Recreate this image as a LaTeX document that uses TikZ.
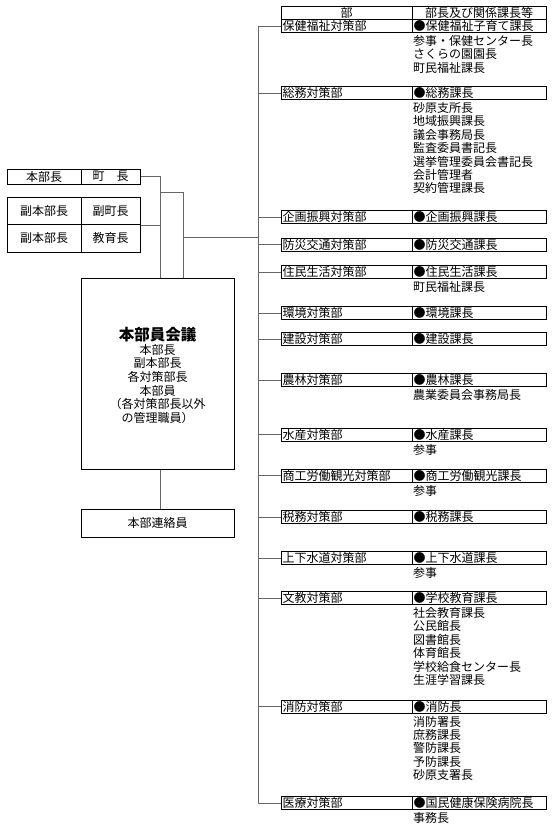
\documentclass[tikz,border=0pt]{standalone}
\usepackage{fontspec}
\setmainfont{Noto Sans CJK JP}
\begin{document}
\begin{tikzpicture}[x=1pt,y=-1pt,
  every node/.style={font=\fontsize{12}{13.4}\selectfont},
  conn/.style={draw=black!60,line width=0.8pt},
  lcell/.style={draw=black,line width=1pt,text width=128,inner xsep=1.5,inner ysep=0,minimum height=13,align=left},
  rcell/.style={draw=black,line width=1pt,text width=131,inner xsep=1.5,inner ysep=0,minimum height=13,align=left},
  box/.style={draw=black,line width=1pt,inner sep=0,align=center},
  subtxt/.style={anchor=west,inner sep=0},
  ctxt/.style={inner sep=0}]
\useasboundingbox (0,0) rectangle (553,830);
\fill[white] (0,0) rectangle (553,830);
\newcommand\dept[4]{%
  \node[lcell] (L#1) at (346.5,#2) {#3};
  \node[rcell] (R#1) at (479,#2) {#4};
  \draw[conn] (L#1.west -| trunk) -- (L#1.west);
}
\newcommand\subs[3]{%
  \foreach \t [count=\i] in {#3} {\node[subtxt] (S#1-\i) at (413,{#2+15+13.4*(\i-1)}) {\t};}
}
\coordinate (trunk) at (258,26.25);
% header
\node[lcell,align=center,minimum height=13.5] (H1) at (346.5,12.75) {部};
\node[rcell,align=center,minimum height=13.5] (H2) at (479,12.75) {部長及び関係課長等};
\dept{a}{26.25}{保健福祉対策部}{●保健福祉子育て課長}
\subs{a}{26.25}{参事・保健センター長,さくらの園園長,町民福祉課長}
\dept{b}{93}{総務対策部}{●総務課長}
\subs{b}{93}{砂原支所長,地域振興課長,議会事務局長,監査委員書記長,選挙管理委員会書記長,会計管理者,契約管理課長}
\dept{c}{217}{企画振興対策部}{●企画振興課長}
\dept{d}{244.5}{防災交通対策部}{●防災交通課長}
\dept{e}{272}{住民生活対策部}{●住民生活課長}
\subs{e}{272}{町民福祉課長}
\dept{f}{313}{環境対策部}{●環境課長}
\dept{g}{339}{建設対策部}{●建設課長}
\dept{h}{380}{農林対策部}{●農林課長}
\subs{h}{380}{農業委員会事務局長}
\dept{i}{434.5}{水産対策部}{●水産課長}
\subs{i}{434.5}{参事}
\dept{j}{475.5}{商工労働観光対策部}{●商工労働観光課長}
\subs{j}{475.5}{参事}
\dept{k}{517}{税務対策部}{●税務課長}
\dept{l}{558}{上下水道対策部}{●上下水道課長}
\subs{l}{558}{参事}
\dept{m}{598}{文教対策部}{●学校教育課長}
\subs{m}{598}{社会教育課長,公民館長,図書館長,体育館長,学校給食センター長,生涯学習課長}
\dept{n}{706.5}{消防対策部}{●消防長}
\subs{n}{706.5}{消防署長,庶務課長,警防課長,予防課長,砂原支署長}
\dept{o}{803}{医療対策部}{●国民健康保険病院長}
\subs{o}{803}{事務長}
\draw[conn] (trunk) -- (Lo.west -| trunk);
% left side
\node[box,minimum width=74,minimum height=15] (hbL) at (44,176.5) {本部長};
\node[box,minimum width=59,minimum height=15] (hbR) at (110.5,176.5) {町　長};
\node[box,minimum width=74,minimum height=27.5] (v1L) at (44,210.75) {副本部長};
\node[box,minimum width=59,minimum height=27.5] (v1R) at (110.5,210.75) {副町長};
\node[box,minimum width=74,minimum height=27.5] (v2L) at (44,238.25) {副本部長};
\node[box,minimum width=59,minimum height=27.5] (v2R) at (110.5,238.25) {教育長};
\node[box,minimum width=153,minimum height=191] (council) at (157.5,373.5) {};
\node[ctxt,font=\bfseries\fontsize{15.5}{16}\selectfont] (ct) at (157.5,335) {本部員会議};
\foreach \t [count=\i] in {本部長,副本部長,各対策部長,本部員,（各対策部長以外,の管理職員）}
  {\node[ctxt] (c\i) at (157.5,{349.5+13.7*(\i-1)}) {\t};}
\node[box,minimum width=153,minimum height=28] (liaison) at (157.5,523) {本部連絡員};
\coordinate (ja) at (160,176.5);
\coordinate (jb) at (183,192);
\coordinate (jc) at (183,237);
\draw[conn] (hbR.east) -- (ja) -- (ja |- council.north);
\draw[conn] (ja |- jb) -- (jb) -- (jb |- council.north);
\draw[conn] (v1R.south east) -- (v1R.south east -| ja);
\draw[conn] (jc) -- (jc -| trunk);
\draw[conn] (ja |- council.south) -- (ja |- liaison.north);
\end{tikzpicture}
\end{document}
